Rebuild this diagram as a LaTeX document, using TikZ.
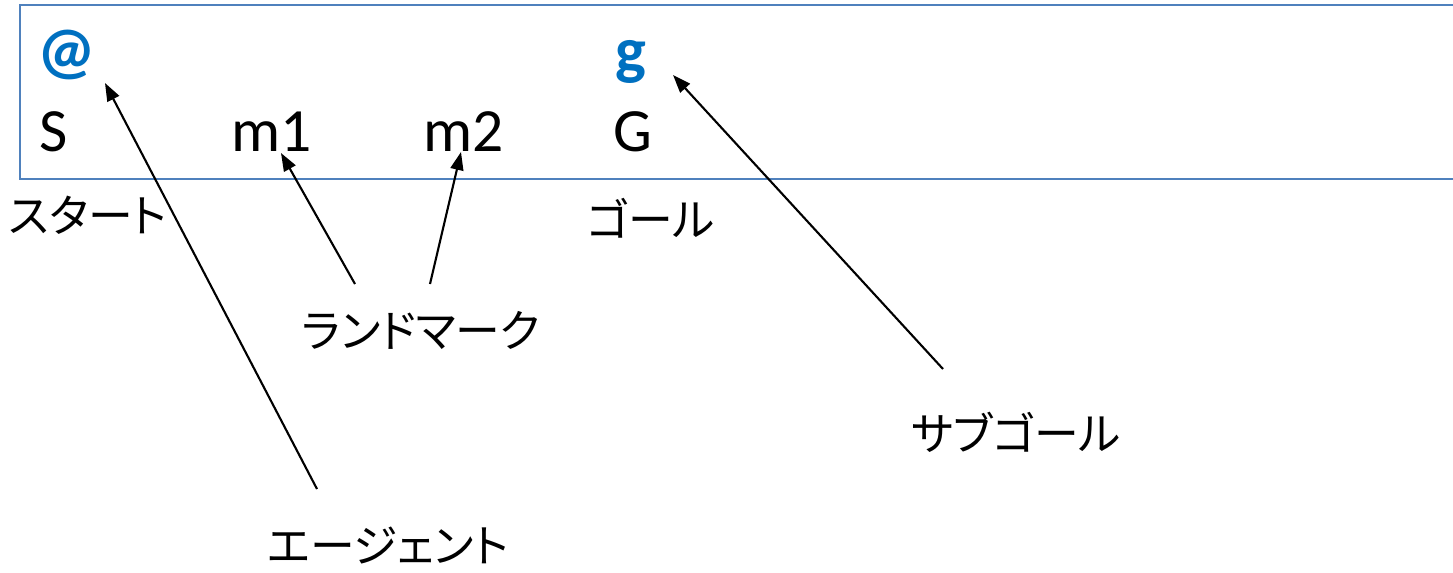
\documentclass[tikz,border=0pt]{standalone}
\usepackage{fontspec}
\setmainfont{Carlito}
\newfontfamily\jpfont[RawFeature=+palt]{Noto Sans CJK JP}
\usepackage{xcolor}
\usepackage{tikz}
\usetikzlibrary{arrows.meta,positioning,calc}

\definecolor{frameblue}{RGB}{79,129,189}
\definecolor{markblue}{RGB}{0,112,192}

\begin{document}
\begin{tikzpicture}[
  x=0.02cm, y=-0.02cm,
  sym/.style={inner sep=0pt, anchor=base, font=\fontsize{35}{42}\selectfont},
  mrk/.style={sym, font=\fontsize{37}{44}\selectfont\bfseries, text=markblue},
  lbl/.style={inner sep=0pt, font=\fontsize{25.5}{30}\selectfont\jpfont},
  arr/.style={-{Triangle[length=3.6mm, width=2.6mm]}, line width=1.2pt}
]
\useasboundingbox (0,0) rectangle (1453,572);

% map frame (open to the right)
\draw[frameblue, line width=1.1pt] (20,5) rectangle (1480,179);

\node[mrk] (at) at (67,72) {@};
\node[mrk] (g) at (631,72) {g};

\node[sym] (s) at (54,151) {S};
\node[sym] (m1) at (272,151) {m1};
\node[sym] (m2) at (464,151) {m2};
\node[sym] (gl) at (633,151) {G};

\node[lbl] (st) at (88,215) {スタート};
\node[lbl] (go) at (651,218) {ゴール};
\node[lbl] (lm) at (421,330) {ランドマーク};
\node[lbl] (sg) at (1016,432) {サブゴール};
\node[lbl] (ag) at (388,545) {エージェント};

\draw[arr] ($(ag.center)+(-71,-56)$) -- ($(at.base)+(38,11)$);
\draw[arr] ($(lm.center)+(-66,-46)$) -- ($(m1.base)+(9,2)$);
\draw[arr] ($(lm.center)+(9,-46)$) -- ($(m2.base)+(-3,1)$);
\draw[arr] ($(sg.center)+(-73,-63)$) -- ($(g.base)+(42,3)$);
\end{tikzpicture}
\end{document}
